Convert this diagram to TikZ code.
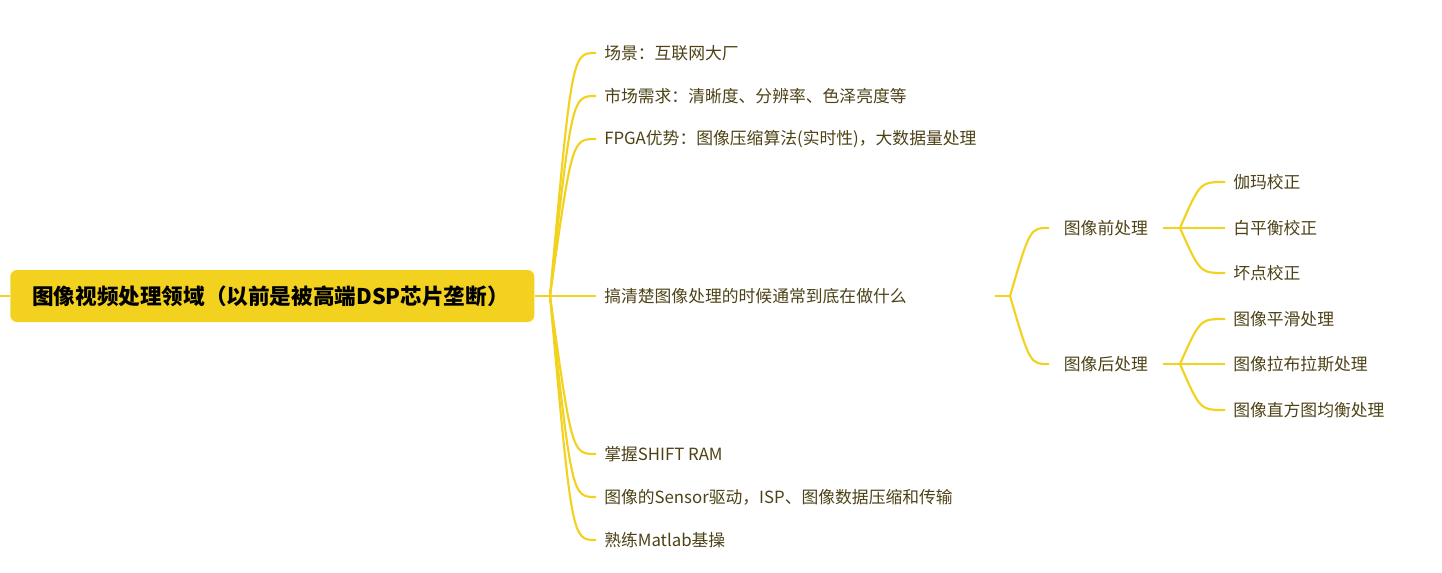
\documentclass[tikz,border=0pt]{standalone}
\usepackage{fontspec}
\setmainfont{Noto Sans CJK SC}
\usetikzlibrary{positioning,calc}

\definecolor{mmyellow}{HTML}{F2D21E}
\definecolor{mmtext}{HTML}{4D4216}

\tikzset{
  branch/.style={draw=mmyellow, line width=1.6pt},
  rootbox/.style={anchor=west, fill=mmyellow, rounded corners=5pt, text=black,
    minimum height=39pt, text width=360pt, inner xsep=16.5pt, align=left,
    font=\fontsize{16.2}{19}\selectfont\bfseries},
  leaf/.style={anchor=west, inner xsep=6pt, inner ysep=2pt, text=mmtext,
    font=\fontsize{12.6}{15}\selectfont},
  subnode/.style={leaf, inner xsep=11pt},
}

\begin{document}
\begin{tikzpicture}[x=0.75pt, y=-0.75pt]
  \useasboundingbox (0,0) rectangle (1442,572);

  % 中心主题
  \coordinate (l-in) at (0,296);
  \node[rootbox] (root) at (10,296) {图像视频处理领域（以前是被高端DSP芯片垄断）};
  \draw[branch] (l-in) -- (root.west);

  % 一级分支
  \coordinate (r-fork) at (550,296);
  \node[leaf] (b1) at (596,53)  {场景：互联网大厂};
  \node[leaf] (b2) at (596,96)  {市场需求：清晰度、分辨率、色泽亮度等};
  \node[leaf] (b3) at (596,139) {FPGA优势：图像压缩算法(实时性)，大数据量处理};
  \node[leaf] (b4) at (596,296) {搞清楚图像处理的时候通常到底在做什么};
  \node[leaf] (b5) at (596,454) {掌握SHIFT RAM};
  \node[leaf] (b6) at (596,497) {图像的Sensor驱动，ISP、图像数据压缩和传输};
  \node[leaf] (b7) at (596,540) {熟练Matlab基操};
  \draw[branch] (root.east) -- (r-fork);
  \foreach \n in {b1,b2,b3,b4,b5,b6,b7}
    \draw[branch] (r-fork) .. controls ($(r-fork |- \n.west)+(22,0)$) .. (\n.west);

  % 二级分支
  \coordinate (m-out) at (995,296);
  \coordinate (m-fork) at (1010,296);
  \node[subnode] (c1) at (1049,228) {图像前处理};
  \node[subnode] (c2) at (1049,364) {图像后处理};
  \draw[branch] (m-out) -- (m-fork);
  \foreach \n in {c1,c2}
    \draw[branch] (m-fork) .. controls ($(m-fork |- \n.west)+(20,0)$) .. (\n.west);

  % 三级分支
  \coordinate (c1-fork) at (1180,228);
  \coordinate (c2-fork) at (1180,364);
  \node[leaf] (d1) at (1225,182) {伽玛校正};
  \node[leaf] (d2) at (1225,228) {白平衡校正};
  \node[leaf] (d3) at (1225,273) {坏点校正};
  \node[leaf] (e1) at (1225,319) {图像平滑处理};
  \node[leaf] (e2) at (1225,364) {图像拉布拉斯处理};
  \node[leaf] (e3) at (1225,410) {图像直方图均衡处理};
  \draw[branch] (c1.east) -- (c1-fork);
  \draw[branch] (c2.east) -- (c2-fork);
  \foreach \n in {d1,d2,d3}
    \draw[branch] (c1-fork) .. controls ($(c1-fork |- \n.west)+(20,0)$) .. (\n.west);
  \foreach \n in {e1,e2,e3}
    \draw[branch] (c2-fork) .. controls ($(c2-fork |- \n.west)+(20,0)$) .. (\n.west);
\end{tikzpicture}
\end{document}
